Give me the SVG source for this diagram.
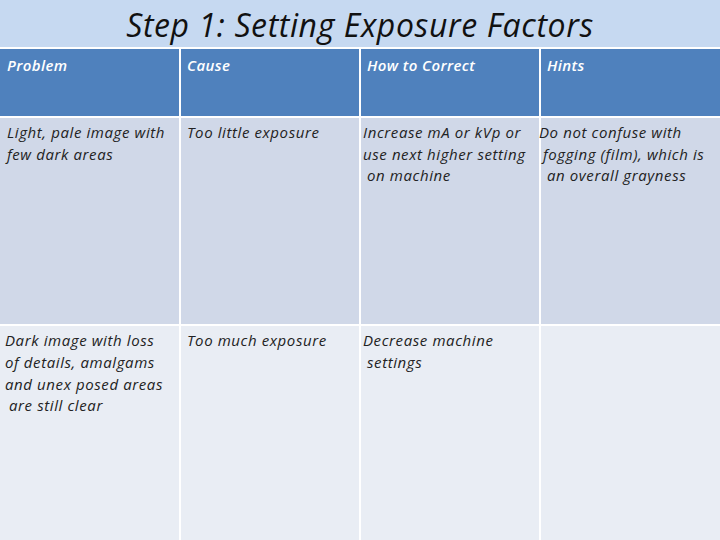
<svg xmlns="http://www.w3.org/2000/svg" width="720" height="540" viewBox="0 0 720 540">
<style>
text{font-family:"Open Sans","Liberation Sans",sans-serif;font-style:italic}
.h{fill:#4f81bd}.r1{fill:#d0d8e8}.r2{fill:#e9edf4}
.ht{fill:#ffffff;font-size:15px;font-weight:600;letter-spacing:0.4px}
.t{fill:#222;font-size:15px;letter-spacing:0.6px}
</style>
<rect width="720" height="540" fill="#ffffff"/>
<rect width="720" height="47" fill="#c6d9f1"/>
<text x="360" y="37" text-anchor="middle" font-size="32" letter-spacing="0.6" fill="#111">Step 1: Setting Exposure Factors</text>
<g id="header">
<rect class="h" x="0" y="49" width="179" height="67"/>
<rect class="h" x="181" y="49" width="178" height="67"/>
<rect class="h" x="361" y="49" width="178" height="67"/>
<rect class="h" x="541" y="49" width="179" height="67"/>
<text class="ht" x="7" y="71">Problem</text>
<text class="ht" x="187" y="71">Cause</text>
<text class="ht" x="367" y="71">How to Correct</text>
<text class="ht" x="547" y="71">Hints</text>
</g>
<g id="row1">
<rect class="r1" x="0" y="118" width="179" height="206"/>
<rect class="r1" x="181" y="118" width="178" height="206"/>
<rect class="r1" x="361" y="118" width="178" height="206"/>
<rect class="r1" x="541" y="118" width="179" height="206"/>
<text class="t" x="7" y="138">Light, pale image with</text>
<text class="t" x="7" y="160">few dark areas</text>
<text class="t" x="187" y="138">Too little exposure</text>
<text class="t" x="363" y="138">Increase mA or kVp or</text>
<text class="t" x="363" y="160">use next higher setting</text>
<text class="t" x="367" y="181">on machine</text>
<text class="t" x="539" y="138">Do not confuse with</text>
<text class="t" x="543" y="160">fogging (film), which is</text>
<text class="t" x="547" y="181">an overall grayness</text>
</g>
<g id="row2">
<rect class="r2" x="0" y="326" width="179" height="214"/>
<rect class="r2" x="181" y="326" width="178" height="214"/>
<rect class="r2" x="361" y="326" width="178" height="214"/>
<rect class="r2" x="541" y="326" width="179" height="214"/>
<text class="t" x="5" y="346">Dark image with loss</text>
<text class="t" x="5" y="368">of details, amalgams</text>
<text class="t" x="5" y="390">and unex posed areas</text>
<text class="t" x="9" y="411">are still clear</text>
<text class="t" x="187" y="346">Too much exposure</text>
<text class="t" x="363" y="346">Decrease machine</text>
<text class="t" x="367" y="368">settings</text>
</g>
</svg>
